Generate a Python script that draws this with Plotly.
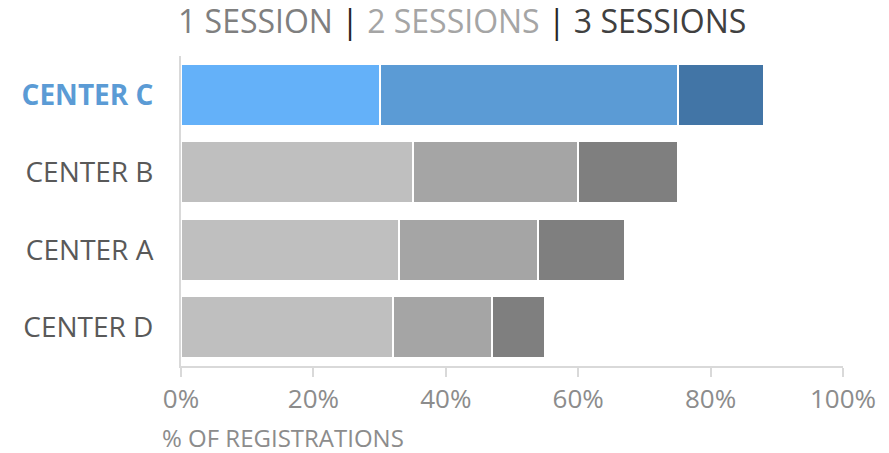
import plotly.graph_objects as go

categories = ["CENTER D", "CENTER A", "CENTER B", "CENTER C"]
one_session = [32, 33, 35, 30]
two_sessions = [15, 21, 25, 45]
three_sessions = [8, 13, 15, 13]
highlight = "CENTER C"
tick_vals = [0, 20, 40, 60, 80, 100]
tick_text = ["0%", "20%", "40%", "60%", "80%", "100%"]

gray_cols = ["#BFBFBF", "#A5A5A5", "#7F7F7F"]
blue_cols = ["#64B1F9", "#5B9BD5", "#4275A6"]

FONT = "Open Sans"
fig = go.Figure()
for i, vals in enumerate([one_session, two_sessions, three_sessions]):
    colors = [blue_cols[i] if c == highlight else gray_cols[i] for c in categories]
    fig.add_trace(go.Bar(
        y=categories, x=vals, orientation="h",
        marker=dict(color=colors, line=dict(color="white", width=2)),
        width=0.8, showlegend=False, hoverinfo="x+y",
    ))

cat_text = [f"<b><span style='color:#5B9BD5'>{c}</span></b>" if c == highlight else c for c in categories]

fig.update_layout(
    barmode="stack",
    width=889, height=453,
    margin=dict(l=181, r=46, t=56, b=87),
    plot_bgcolor="white", paper_bgcolor="white",
    font=dict(family=FONT, color="#595959"),
    title=dict(
        text="<span style='color:#7F7F7F'>1 SESSION</span> <span style='color:#262626'>|</span> "
             "<span style='color:#A5A5A5'>2 SESSIONS</span> <span style='color:#262626'>|</span> "
             "<span style='color:#404040'>3 SESSIONS</span>",
        x=178/889, xanchor="left", y=1 - 22/453, yanchor="middle",
        font=dict(family=FONT, size=32),
    ),
    xaxis=dict(
        range=[0, 100], tickvals=tick_vals, ticktext=tick_text,
        showgrid=False, zeroline=False, automargin=False,
        showline=True, linecolor="#D9D9D9", linewidth=2,
        ticks="outside", ticklen=9, tickcolor="#D9D9D9", tickwidth=2,
        tickfont=dict(family=FONT, size=26, color="#8C8C8C"),
        fixedrange=True,
    ),
    yaxis=dict(
        categoryorder="array", categoryarray=categories,
        tickvals=categories, ticktext=cat_text,
        range=[-0.5, 3.5], automargin=False,
        showgrid=False, zeroline=False,
        showline=True, linecolor="#D9D9D9", linewidth=2,
        ticks="", ticklabelstandoff=20,
        tickfont=dict(family=FONT, size=28, color="#595959"),
        fixedrange=True,
    ),
    annotations=[dict(
        text="% OF REGISTRATIONS", xref="paper", yref="paper",
        x=(160-181)/662, y=-71/310, xanchor="left", yanchor="middle",
        showarrow=False, font=dict(family=FONT, size=24, color="#8C8C8C"),
    )],
)

fig.write_html("out.html", config={"displayModeBar": False},
               post_script="document.body.style.margin='0';")
